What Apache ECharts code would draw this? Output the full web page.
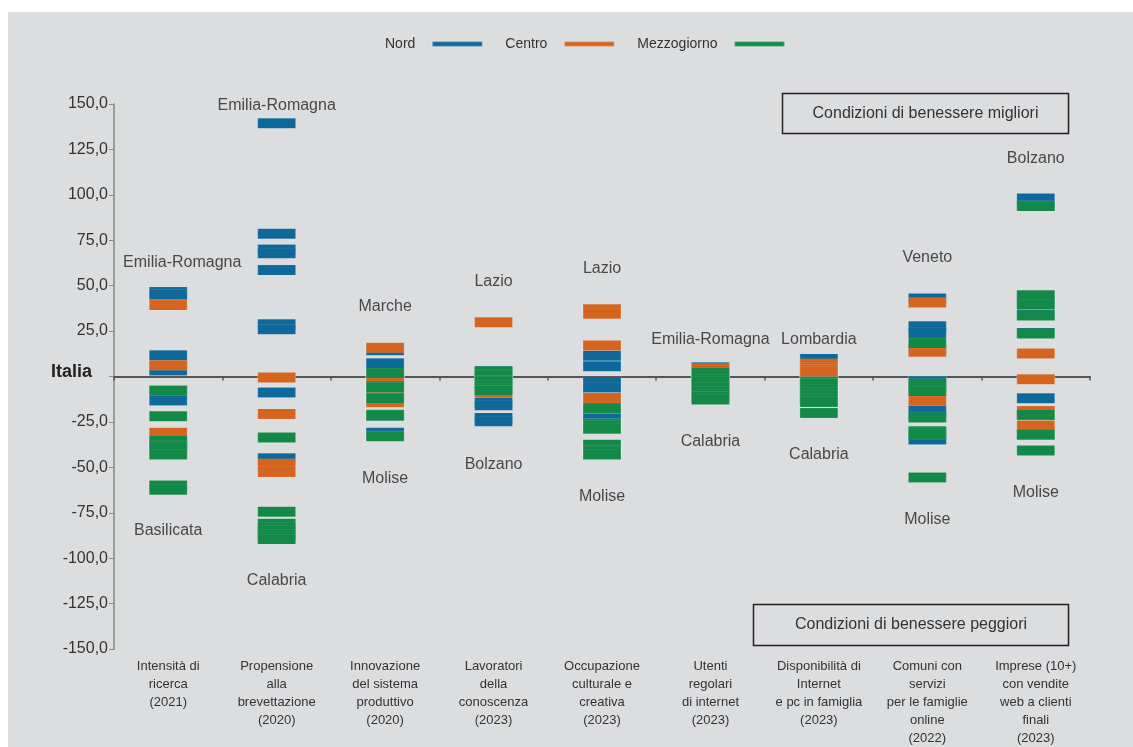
<!DOCTYPE html>
<html>
<head>
<meta charset="utf-8">
<script src="https://cdn.jsdelivr.net/npm/echarts@6/dist/echarts.min.js"></script>
<style>
  html, body { margin: 0; padding: 0; background: #fff; }
  #chart { width: 1133px; height: 747px; }
</style>
</head>
<body>
<div id="chart"></div>
<script>
var categories = [
    'Intensità di\nricerca\n(2021)',
    'Propensione\nalla\nbrevettazione\n(2020)',
    'Innovazione\ndel sistema\nproduttivo\n(2020)',
    'Lavoratori\ndella\nconoscenza\n(2023)',
    'Occupazione\nculturale e\ncreativa\n(2023)',
    'Utenti\nregolari\ndi internet\n(2023)',
    'Disponibilità di\nInternet\ne pc in famiglia\n(2023)',
    'Comuni con\nservizi\nper le famiglie\nonline\n(2022)',
    'Imprese (10+)\ncon vendite\nweb a clienti\nfinali\n(2023)'
];

// valori per indicatore (Italia = 0)
var nord = [
    [46.5, 45, 11.7, 6, 3.3, -8, -13.2, -36, -40],
    [139.4, 78.6, 69.9, 67.8, 58.6, 28.7, 26, -8.8, -45],
    [14.5, 7.3, 1.9, 0, -5, -12, -21.5, -30.9, -32.5],
    [3, 0, -4, -6, -7, -14.5, -15.8, -22.8, -24.7],
    [11.4, 5.6, -3, -6, -12, -17, -23, -26, -40],
    [5.1, 0, -2, -3, -4, -6, -8, -10, -12],
    [9.7, 6, 3, 0, -2, -5, -8, -12, -13],
    [43, 27.7, 24, 15, -2.6, -6, -18.7, -22, -34.7],
    [98, 94, 44, 40, 34, 24, -12, -21, -32]
];
var centro = [
    [39.3, 6.2, -31, -36],
    [-0.5, -20.6, -48, -52.5],
    [15.8, -2.2, -11.4, -14.2],
    [29.8, 0, -3, -8.9],
    [37, 34.5, 17, -11.8],
    [4.4, -1, -5, -9],
    [7, 5, 4, 2.6],
    [40.8, 13.6, -8, -13.4],
    [12.7, -1.5, -19, -27]
];
var mezzogiorno = [
    [-7.7, -21.9, -35.3, -38, -39, -43, -60, -62.4],
    [-33.6, -74.5, -81, -83, -85, -87, -88, -89.5],
    [1.9, -5.4, -5.8, -6, -12, -21, -21.5, -32.9],
    [2.9, 1, 0.5, -2.2, -3, -5, -6.5, -7.7],
    [-17.4, -26, -27, -28.7, -37.5, -40.3, -41, -43],
    [2.2, -1.6, -3, -6, -8, -10, -11, -12.7],
    [-2.9, -4, -7.2, -9, -10.5, -12, -14, -20.1],
    [18.4, -4, -8, -22.6, -30.2, -31, -32, -55.6],
    [93.8, 44.7, 39.7, 33.6, 23.7, -21, -31.8, -40.8]
];

// regioni con il valore migliore / peggiore
var topRegions = ['Emilia-Romagna', 'Emilia-Romagna', 'Marche', 'Lazio', 'Lazio', 'Emilia-Romagna', 'Lombardia', 'Veneto', 'Bolzano'];
var bottomRegions = ['Basilicata', 'Calabria', 'Molise', 'Bolzano', 'Molise', 'Calabria', 'Calabria', 'Molise', 'Molise'];
// dove stanno le etichette (in unità dell'asse)
var topLabelAt = [62.9, 149, 38.6, 52.4, 59.6, 20.4, 20.4, 65.6, 120.2];
var bottomLabelAt = [-85, -112.5, -56.3, -48.5, -66.2, -35.9, -43, -78.9, -64];

var yTicks = { min: -150, max: 150, interval: 25 };

function toPoints(arr) {
    var out = [];
    arr.forEach(function (vals, i) {
        vals.forEach(function (v) { out.push([i, v]); });
    });
    return out;
}

function labelPoints() {
    var out = [];
    topRegions.forEach(function (name, i) {
        var item = { value: [i, topLabelAt[i]], name: name };
        if (i === 0) item.label = { offset: [14, 0] };
        out.push(item);
    });
    bottomRegions.forEach(function (name, i) {
        out.push({ value: [i, bottomLabelAt[i]], name: name });
    });
    return out;
}

function dashSeries(name, color, arr) {
    return {
        name: name,
        type: 'scatter',
        xAxisIndex: 0,
        symbol: 'rect',
        symbolSize: [38, 10],
        itemStyle: {
            color: color,
            opacity: 1,
            borderColor: 'rgba(255,255,255,0.22)',
            borderWidth: 0.6
        },
        emphasis: { disabled: true },
        data: toPoints(arr)
    };
}

var myChart = echarts.init(document.getElementById('chart'));
myChart.setOption({
    animation: false,
    backgroundColor: '#ffffff',
    textStyle: { fontFamily: 'Liberation Sans, Arial, sans-serif' },
    graphic: [
        {
            type: 'rect', z: -10, silent: true,
            shape: { x: 8, y: 12, width: 1125, height: 735 },
            style: { fill: '#dcdddf' }
        },
        {
            type: 'rect', z: 10, silent: true,
            shape: { x: 782.5, y: 93.5, width: 286, height: 40 },
            style: { fill: 'transparent', stroke: '#222', lineWidth: 1.5 }
        },
        {
            type: 'text', z: 10, silent: true,
            x: 925.5, y: 113.5,
            style: {
                text: 'Condizioni di benessere migliori', fill: '#333',
                font: '16px Liberation Sans, Arial, sans-serif',
                align: 'center', verticalAlign: 'middle'
            }
        },
        {
            type: 'rect', z: 10, silent: true,
            shape: { x: 753.5, y: 604.5, width: 315, height: 41 },
            style: { fill: 'transparent', stroke: '#222', lineWidth: 1.5 }
        },
        {
            type: 'text', z: 10, silent: true,
            x: 911, y: 625,
            style: {
                text: 'Condizioni di benessere peggiori', fill: '#333',
                font: '16px Liberation Sans, Arial, sans-serif',
                align: 'center', verticalAlign: 'middle'
            }
        }
    ],
    legend: {
        left: 380,
        top: 32,
        align: 'right',
        icon: 'rect',
        itemWidth: 50,
        itemHeight: 5,
        itemGap: 22,
        textStyle: { fontSize: 14, color: '#333', padding: [0, 12, 0, 0] },
        data: ['Nord', 'Centro', 'Mezzogiorno']
    },
    grid: { left: 114, right: 43, top: 104, bottom: 97 },
    xAxis: [
        {
            type: 'category',
            data: categories,
            position: 'bottom',
            axisLine: { show: false, onZero: false },
            axisTick: { show: false },
            axisLabel: {
                interval: 0,
                margin: 8,
                fontSize: 13,
                lineHeight: 18,
                color: '#333',
                verticalAlign: 'top'
            },
            splitLine: { show: false }
        },
        {
            type: 'category',
            data: categories,
            position: 'bottom',
            axisLine: { show: true, onZero: true, lineStyle: { color: '#555', width: 2 } },
            axisTick: { show: true, length: 4, lineStyle: { color: '#555', width: 1.5 } },
            axisLabel: { show: false },
            splitLine: { show: false }
        }
    ],
    yAxis: {
        type: 'value',
        min: yTicks.min,
        max: yTicks.max,
        interval: yTicks.interval,
        axisLine: { show: true, lineStyle: { color: '#888', width: 1.5 } },
        axisTick: { show: true, length: 5, lineStyle: { color: '#888' } },
        splitLine: { show: false },
        axisLabel: {
            margin: 6,
            fontSize: 16,
            color: '#333',
            formatter: function (v) {
                return v === 0 ? '{it|Italia}' : v.toFixed(1).replace('.', ',');
            },
            rich: {
                it: { fontWeight: 'bold', fontSize: 18, color: '#222', padding: [0, 16, 9, 0] }
            }
        }
    },
    series: [
        dashSeries('Nord', '#0e6899', nord),
        dashSeries('Centro', '#d5651e', centro),
        dashSeries('Mezzogiorno', '#138948', mezzogiorno),
        {
            name: 'etichette',
            type: 'scatter',
            symbolSize: 0,
            silent: true,
            label: {
                show: true,
                position: 'inside',
                formatter: '{b}',
                fontSize: 16,
                color: '#222'
            },
            data: labelPoints()
        }
    ]
});
</script>
</body>
</html>
